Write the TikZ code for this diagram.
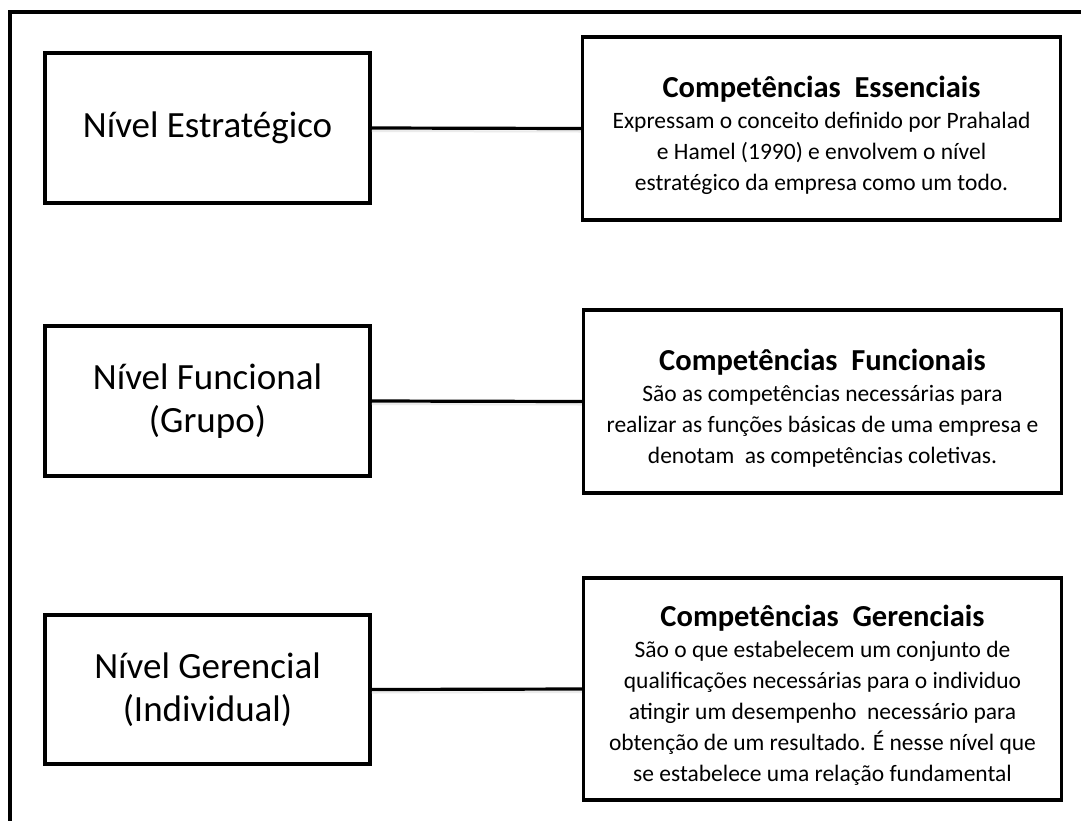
\documentclass[tikz,border=0pt]{standalone}
\usepackage{fontspec}
\setmainfont{Carlito}
\begin{document}
\begin{tikzpicture}[x=1pt,y=-1pt,
  levelbox/.style={draw=black,line width=3.5pt,fill=white,minimum width=325pt,minimum height=150pt,inner sep=0pt,align=center,font=\fontsize{37}{43}\selectfont},
  compbox/.style={draw=black,line width=3.5pt,fill=white,minimum width=478pt,inner sep=0pt},
  comptext/.style={inner sep=0pt,align=center,font=\fontsize{23.5}{31}\selectfont},
  link/.style={line width=3.2pt,draw=black},
  linkshadow/.style={line width=2pt,draw=black!8}]
\useasboundingbox (0,0) rectangle (1081,820);
\fill[white] (0,0) rectangle (1081,820);
% outer frame (cut by the page at right and bottom)
\coordinate (fb) at (10,822);
\coordinate (ftl) at (10,12);
\coordinate (fr) at (1083,12);
\draw[line width=4pt,line join=miter] (fb) -- (ftl) -- (fr);

% left level boxes
\node[levelbox] (n1) at (207.5,128) {Nível Estratégico};
\node[levelbox] (n2) at (207.5,401) {Nível Funcional\\(Grupo)};
\node[levelbox,minimum height=149pt] (n3) at (207.5,689.5) {Nível Gerencial\\(Individual)};

% right competence boxes
\node[compbox,minimum height=183pt] (c1) at (821.5,128.5) {};
\node[compbox,minimum height=183pt] (c2) at (822.5,401.5) {};
\node[compbox,minimum height=222pt] (c3) at (822.5,689) {};

\node[comptext] (c1t) at ([yshift=-6.5pt]c1.center) {{\fontsize{30.5}{31}\selectfont\bfseries Competências\ \ Essenciais}\\[0pt]
Expressam o conceito definido por Prahalad\\
e Hamel (1990) e envolvem o nível\\
estratégico da empresa como um todo.};
\node[comptext] (c2t) at ([yshift=-6.5pt]c2.center) {{\fontsize{30.5}{31}\selectfont\bfseries Competências\ \ Funcionais}\\[0pt]
São as competências necessárias para\\
realizar as funções básicas de uma empresa e\\
denotam\ \ as competências coletivas.};
\node[comptext] (c3t) at ([yshift=-6.5pt]c3.center) {{\fontsize{30.5}{31}\selectfont\bfseries Competências\ \ Gerenciais}\\[0pt]
São o que estabelecem um conjunto de\\
qualificações necessárias para o individuo\\
atingir um desempenho\ \ necessário para\\
obtenção de um resultado. É nesse nível que\\
se estabelece uma relação fundamental};

% connectors
\foreach \a/\b in {n1/c1,n2/c2,n3/c3}{
  \draw[linkshadow] ([yshift=-3pt]\a.east) -- ([yshift=-3pt]\b.west);
  \draw[link] (\a.east) -- (\b.west);
}
\end{tikzpicture}
\end{document}
